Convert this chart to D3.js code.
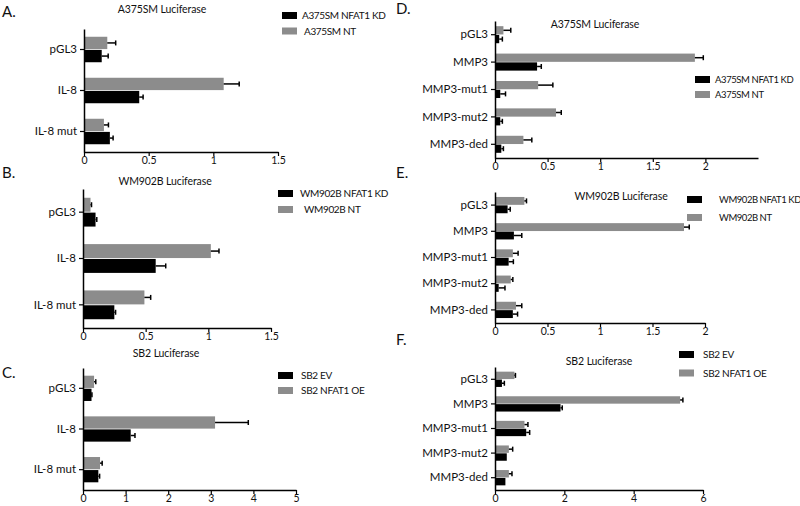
<!DOCTYPE html>
<html><head><meta charset="utf-8">
<script src="https://cdn.jsdelivr.net/npm/d3@7"></script>
<style>
html,body{margin:0;padding:0;background:#fff;}
svg text{font-family:Lato,"Open Sans",sans-serif;fill:#111;}
</style></head>
<body><svg id="c" width="800" height="506"></svg>
<script>
// ---- data ----
const catsIL8 = ["pGL3", "IL-8", "IL-8 mut"];
const catsMMP3 = ["pGL3", "MMP3", "MMP3-mut1", "MMP3-mut2", "MMP3-ded"];

const ticksA = [0, 0.5, 1, 1.5];
const ticksB = [0, 0.5, 1, 1.5];
const ticksC = [0, 1, 2, 3, 4, 5];
const ticksD = [0, 0.5, 1, 1.5, 2];
const ticksE = [0, 0.5, 1, 1.5, 2];
const ticksF = [0, 2, 4, 6];

// A. A375SM IL-8
const aKD = [0.137, 0.427, 0.20];
const aKDerr = [0.05, 0.03, 0.025];
const aNT = [0.18, 1.08, 0.154];
const aNTerr = [0.065, 0.12, 0.035];
// B. WM902B IL-8
const bKD = [0.10, 0.58, 0.25];
const bKDerr = [0.01, 0.08, 0.01];
const bNT = [0.06, 1.02, 0.49];
const bNTerr = [0.008, 0.065, 0.05];
// C. SB2 IL-8
const cEV = [0.20, 1.12, 0.36];
const cEVerr = [0.01, 0.10, 0.03];
const cOE = [0.26, 3.10, 0.40];
const cOEerr = [0.04, 0.78, 0.05];
// D. A375SM MMP3
const dKD = [0.04, 0.40, 0.05, 0.05, 0.06];
const dKDerr = [0.03, 0.04, 0.05, 0.02, 0.02];
const dNT = [0.08, 1.90, 0.41, 0.58, 0.27];
const dNTerr = [0.07, 0.08, 0.14, 0.05, 0.08];
// E. WM902B MMP3
const eKD = [0.12, 0.18, 0.13, 0.035, 0.17];
const eKDerr = [0.025, 0.075, 0.045, 0.06, 0.045];
const eNT = [0.28, 1.80, 0.17, 0.15, 0.20];
const eNTerr = [0.02, 0.05, 0.05, 0.02, 0.055];
// F. SB2 MMP3
const fEV = [0.20, 1.89, 0.90, 0.34, 0.30];
const fEVerr = [0.07, 0.05, 0.10, 0, 0];
const fOE = [0.56, 5.34, 0.85, 0.40, 0.40];
const fOEerr = [0.03, 0.08, 0.10, 0.11, 0.09];

const BLACK = "#000000", GRAY = "#8c8c8c";

const panels = [
  {letter:"A.", lx:2, ly:17, title:"A375SM Luciferase", tx:162, ty:13,
   cats:catsIL8, ticks:ticksA, xmax:1.5, x0:84, x1:278, y0:29, y1:152,
   series:[{name:"A375SM NT", v:aNT, e:aNTerr, c:GRAY},{name:"A375SM NFAT1 KD", v:aKD, e:aKDerr, c:BLACK}],
   leg:{x:282, y:12, tx:302, labels:["A375SM NFAT1 KD","A375SM NT"], dy:15.5, tdx:[0,2], fs:10, ls:-0.35}},
  {letter:"B.", lx:2, ly:178, title:"WM902B Luciferase", tx:165, ty:185,
   cats:catsIL8, ticks:ticksB, xmax:1.5, x0:83, x1:271, y0:189, y1:328,
   series:[{name:"WM902B NT", v:bNT, e:bNTerr, c:GRAY},{name:"WM902B NFAT1 KD", v:bKD, e:bKDerr, c:BLACK}],
   leg:{x:278, y:190, tx:300, labels:["WM902B NFAT1 KD","WM902B NT"], dy:16, tdx:[0,4], fs:10, ls:-0.35}},
  {letter:"C.", lx:2, ly:378, title:"SB2 Luciferase", tx:166, ty:357,
   cats:catsIL8, ticks:ticksC, xmax:5, x0:83, x1:296, y0:368, y1:490,
   series:[{name:"SB2 NFAT1 OE", v:cOE, e:cOEerr, c:GRAY},{name:"SB2 EV", v:cEV, e:cEVerr, c:BLACK}],
   leg:{x:278, y:372, tx:301, labels:["SB2 EV","SB2 NFAT1 OE"], dy:15, tdx:[0,0], fs:10, ls:-0.3}},
  {letter:"D.", lx:396, ly:14, title:"A375SM Luciferase", tx:595, ty:28,
   cats:catsMMP3, ticks:ticksD, xmax:2.5, x0:495, x1:758, y0:21, y1:158,
   series:[{name:"A375SM NT", v:dNT, e:dNTerr, c:GRAY},{name:"A375SM NFAT1 KD", v:dKD, e:dKDerr, c:BLACK}],
   leg:{x:695, y:76, tx:715, labels:["A375SM NFAT1 KD","A375SM NT"], dy:15, tdx:[0,0], fs:9.5, ls:-0.4}},
  {letter:"E.", lx:396, ly:178, title:"WM902B Luciferase", tx:621, ty:200,
   cats:catsMMP3, ticks:ticksE, xmax:2, x0:495, x1:705, y0:192, y1:323,
   series:[{name:"WM902B NT", v:eNT, e:eNTerr, c:GRAY},{name:"WM902B NFAT1 KD", v:eKD, e:eKDerr, c:BLACK}],
   leg:{x:687, y:196, tx:719, labels:["WM902B NFAT1 KD","WM902B NT"], dy:18, tdx:[0,0], fs:9.5, ls:-0.45}},
  {letter:"F.", lx:396, ly:345, title:"SB2 Luciferase", tx:599, ty:365,
   cats:catsMMP3, ticks:ticksF, xmax:6, x0:495, x1:703, y0:367, y1:490,
   series:[{name:"SB2 NFAT1 OE", v:fOE, e:fOEerr, c:GRAY},{name:"SB2 EV", v:fEV, e:fEVerr, c:BLACK}],
   leg:{x:679, y:351, tx:703, labels:["SB2 EV","SB2 NFAT1 OE"], dy:18.5, tdx:[0,0], fs:10, ls:-0.3}}
];

const svg = d3.select("#c");

panels.forEach(p => {
  const g = svg.append("g");
  const x = d3.scaleLinear().domain([0, p.xmax]).range([p.x0, p.x1]);
  const y = d3.scaleBand().domain(p.cats).range([p.y0, p.y1]).paddingInner(0.34).paddingOuter(0.17);
  const sub = d3.scaleBand().domain([0,1]).range([0, y.bandwidth()]).padding(0.06);

  // letter & title
  g.append("text").attr("x", p.lx).attr("y", p.ly).attr("font-size", 15).text(p.letter);
  g.append("text").attr("x", p.tx).attr("y", p.ty).attr("font-size", 10.5).attr("letter-spacing", -0.1)
    .attr("text-anchor","middle").text(p.title);

  // bars
  p.series.forEach((s, si) => {
    p.cats.forEach((cat, i) => {
      const yy = y(cat) + sub(si);
      const h = sub.bandwidth();
      g.append("rect").attr("x", x(0)).attr("y", yy).attr("width", x(s.v[i]) - x(0)).attr("height", h).attr("fill", s.c);
      if (s.e[i] > 0) {
        const ym = yy + h / 2;
        g.append("line").attr("x1", x(s.v[i])).attr("x2", x(s.v[i] + s.e[i])).attr("y1", ym).attr("y2", ym)
          .attr("stroke", "#000").attr("stroke-width", 1.5);
        g.append("line").attr("x1", x(s.v[i] + s.e[i])).attr("x2", x(s.v[i] + s.e[i])).attr("y1", ym - 2.5).attr("y2", ym + 2.5)
          .attr("stroke", "#000").attr("stroke-width", 1.5);
      }
    });
  });

  // axes
  const xa = g.append("g").attr("transform", `translate(0,${p.y1})`)
    .call(d3.axisBottom(x).tickValues(p.ticks).tickFormat(d => String(d)).tickSize(4).tickSizeOuter(0).tickPadding(1));
  xa.select(".domain").attr("stroke-width", 1.5);
  xa.selectAll(".tick line").attr("stroke-width", 1.2);
  xa.selectAll("text").attr("font-size", 10.5).attr("font-family", "Lato,'Open Sans',sans-serif").attr("fill", "#111");

  const ya = g.append("g").attr("transform", `translate(${p.x0},0)`)
    .call(d3.axisLeft(y).tickSize(4).tickSizeOuter(0).tickPadding(3));
  ya.select(".domain").attr("stroke-width", 1.5);
  ya.selectAll(".tick line").attr("stroke-width", 1.2);
  ya.selectAll("text").attr("font-size", 11.5).attr("font-family", "Lato,'Open Sans',sans-serif").attr("fill", "#111");

  // legend
  const cols = [BLACK, GRAY];
  p.leg.labels.forEach((lab, k) => {
    const ly = p.leg.y + k * p.leg.dy;
    g.append("rect").attr("x", p.leg.x).attr("y", ly).attr("width", 15).attr("height", 7).attr("fill", cols[k]);
    g.append("text").attr("x", p.leg.tx + p.leg.tdx[k]).attr("y", ly + 7).attr("font-size", p.leg.fs)
      .attr("letter-spacing", p.leg.ls).text(lab);
  });
});
</script></body></html>
